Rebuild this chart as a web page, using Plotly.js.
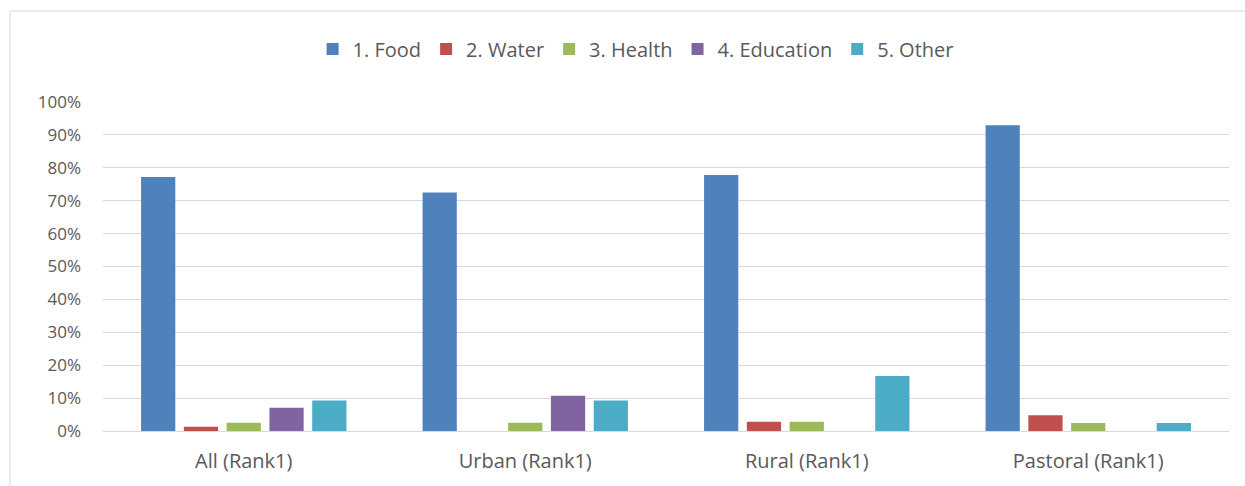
<!DOCTYPE html>
<html><head><meta charset="utf-8">
<script src="https://cdn.plot.ly/plotly-3.0.1.min.js"></script>
<style>html,body{margin:0;padding:0;background:#fff}#chart{width:1245px;height:486px}</style>
</head><body><div id="chart"></div>
<script>
const categories = ["All (Rank1)", "Urban (Rank1)", "Rural (Rank1)", "Pastoral (Rank1)"];
const seriesNames = ["1. Food", "2. Water", "3. Health", "4. Education", "5. Other"];
const food      = [0.772, 0.725, 0.778, 0.929];
const water     = [0.013, 0.0,   0.028, 0.048];
const health    = [0.025, 0.025, 0.028, 0.024];
const education = [0.071, 0.107, 0.0,   0.0];
const other     = [0.093, 0.093, 0.167, 0.024];
const colors = ["#4f81bd", "#c0504d", "#9bbb59", "#8064a2", "#4bacc6"];
const yTicks = [0,0.1,0.2,0.3,0.4,0.5,0.6,0.7,0.8,0.9,1.0];

const allSeries = [food, water, health, education, other];
const traces = allSeries.map((vals, i) => ({
  type: "bar", name: seriesNames[i], x: categories, y: vals,
  marker: {color: colors[i]}, hoverinfo: "skip"
}));

const layout = {
  width: 1245, height: 486,
  margin: {l: 103, r: 16, t: 102, b: 55},
  paper_bgcolor: "#fff", plot_bgcolor: "#fff",
  barmode: "group", bargap: 0.24, bargroupgap: 0.2,
  font: {family: "Open Sans, Liberation Sans, sans-serif", color: "#595959", size: 16},
  showlegend: true,
  legend: {orientation: "h", x: 0.473, xanchor: "center", y: 1.161, yanchor: "middle",
           font: {size: 20, color: "#595959"}, traceorder: "normal", itemwidth: 30},
  xaxis: {showgrid: false, showline: false, zeroline: false, ticks: "",
          ticklabelstandoff: 16, tickfont: {size: 20, color: "#595959"}},
  yaxis: {range: [0, 1.0], tickvals: yTicks, tickformat: ".0%", showgrid: true,
          gridcolor: "#d9d9d9", gridwidth: 1, zeroline: true, zerolinecolor: "#d9d9d9",
          zerolinewidth: 1, showline: false, ticks: "", ticklen: 0, ticklabelstandoff: 21,
          tickfont: {size: 17, color: "#595959"}},
  shapes: [
    {type: "line", xref: "paper", yref: "paper", x0: -0.0826, x1: -0.0826, y0: -0.2, y1: 1.2766,
     line: {color: "#d9d9d9", width: 1}},
    {type: "line", xref: "paper", yref: "paper", x0: -0.0826, x1: 1.1, y0: 1.2766, y1: 1.2766,
     line: {color: "#d9d9d9", width: 1}}
  ]
};
Plotly.newPlot("chart", traces, layout, {displayModeBar: false, staticPlot: true});
</script></body></html>
